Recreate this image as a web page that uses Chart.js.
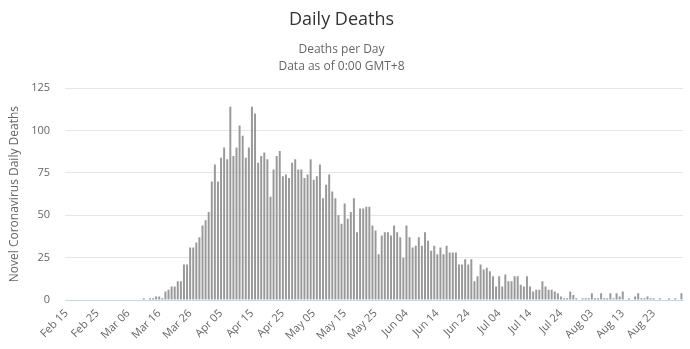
<!DOCTYPE html>
<html>
<head>
<meta charset="utf-8">
<script src="https://cdn.jsdelivr.net/npm/chart.js@4.4.1/dist/chart.umd.min.js"></script>
<style>
html,body{margin:0;padding:0;background:#fff;}
#wrap{width:690px;height:349px;position:relative;}
</style>
</head>
<body>
<div id="wrap"><canvas id="c" width="690" height="349"></canvas></div>
<script>
// Categories: one per day, Feb 15 .. Sep 1 (200 days)
const monthNames = ['Jan','Feb','Mar','Apr','May','Jun','Jul','Aug','Sep','Oct','Nov','Dec'];
const firstDay = new Date(2020, 1, 15);
const dayCount = 200;
const categories = [];
for (let i = 0; i < dayCount; i++) {
  const d = new Date(firstDay.getFullYear(), firstDay.getMonth(), firstDay.getDate() + i);
  categories.push(monthNames[d.getMonth()] + ' ' + String(d.getDate()).padStart(2, '0'));
}

// Tick labels shown on the x axis
const tickLabels = ['Feb 15','Feb 25','Mar 06','Mar 16','Mar 26','Apr 05','Apr 15','Apr 25',
  'May 05','May 15','May 25','Jun 04','Jun 14','Jun 24','Jul 04','Jul 14','Jul 24',
  'Aug 03','Aug 13','Aug 23'];

// Daily deaths
const deathsFeb15toMar10 = [0,0,0,0,0,0,0,0,0,0,0,0,0,0,0,0,0,0,0,0,0,0,0,0,0];
const deathsMar11toApr04 = [1,0,1,1,2,2,1,5,6,8,8,11,11,21,21,31,31,34,37,44,47,52,70,80,70];
const deathsApr05toMay19 = [84,90,83,114,85,90,103,97,84,90,
  114,110,81,85,87,83,61,77,85,88,
  73,74,72,81,83,77,77,72,74,83,
  71,73,80,60,68,74,64,60,50,45,
  57,48,52,60,40];
const deathsMay20toJul03 = [54,54,55,55,44,41,27,38,40,40,
  38,44,40,37,25,44,37,31,32,37,
  32,40,35,29,32,27,31,27,32,28,
  28,28,21,21,24,21,24,11,14,21,
  18,19,17,14,8];
const deathsJul04toSep01 = [14,8,15,11,11,14,14,9,8,14,
  8,5,6,6,11,8,6,6,5,4,
  2,1,1,5,3,1,0,1,1,1,
  4,1,1,4,1,1,4,1,4,2,
  5,0,1,0,2,4,1,1,2,1,
  1,0,1,0,0,1,0,1,0,4];
const deaths = [].concat(deathsFeb15toMar10, deathsMar11toApr04, deathsApr05toMay19,
  deathsMay20toJul03, deathsJul04toSep01);

const yTicks = [0, 25, 50, 75, 100, 125];

const FONT = "'Open Sans', 'DejaVu Sans', sans-serif";

new Chart(document.getElementById('c'), {
  type: 'bar',
  data: {
    labels: categories,
    datasets: [{
      label: 'Deaths',
      data: deaths,
      backgroundColor: '#999999',
      borderWidth: 0,
      categoryPercentage: 0.8,
      barPercentage: 0.8
    }]
  },
  options: {
    responsive: false,
    animation: false,
    devicePixelRatio: 1,
    layout: { padding: { left: 0, right: 7, top: 0, bottom: 0 } },
    plugins: {
      legend: { display: false },
      tooltip: { enabled: false },
      title: {
        display: true,
        text: 'Daily Deaths',
        color: '#333333',
        font: { family: FONT, size: 18, weight: 'normal' },
        padding: { top: 9, bottom: 11 }
      },
      subtitle: {
        display: true,
        text: ['Deaths per Day', 'Data as of 0:00 GMT+8'],
        color: '#666666',
        font: { family: FONT, size: 12, weight: 'normal', lineHeight: 1.4 },
        padding: { top: 0, bottom: 13 }
      }
    },
    scales: {
      x: {
        grid: { display: false, drawTicks: false },
        border: { display: true, color: '#ccd6eb', width: 1 },
        ticks: {
          autoSkip: false,
          minRotation: 45,
          maxRotation: 45,
          color: '#666666',
          font: { family: FONT, size: 11 },
          padding: 7,
          callback: function (v, i) {
            const c = categories[i];
            return tickLabels.includes(c) ? c : null;
          }
        },
        afterFit: function (s) { s.height = 49; }
      },
      y: {
        min: 0,
        max: 125,
        afterBuildTicks: function (s) { s.ticks = yTicks.map(v => ({ value: v })); },
        grid: { color: '#e6e6e6', lineWidth: 1, drawTicks: false },
        border: { display: false },
        ticks: {
          color: '#666666',
          font: { family: FONT, size: 11 },
          padding: 15
        },
        title: {
          display: true,
          text: 'Novel Coronavirus Daily Deaths',
          color: '#666666',
          font: { family: FONT, size: 12, weight: 'normal' },
          padding: { top: 7, bottom: 0 }
        },
        afterFit: function (s) { s.width = 65; }
      }
    }
  }
});
</script>
</body>
</html>
